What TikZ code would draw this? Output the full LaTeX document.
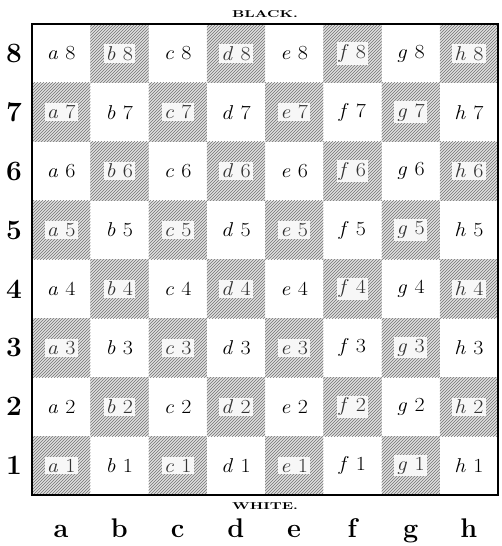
\documentclass[tikz,border=0pt]{standalone}
\usepackage{fontspec}
\usetikzlibrary{patterns}
\begin{document}
\begin{tikzpicture}[x=1pt,y=1pt,
  darksq/.style={pattern=north east lines,pattern color=black!55},
  sqlabel/.style={font=\fontsize{20}{20}\selectfont,inner sep=2pt,xscale=1.1,transform shape},
  darklabel/.style={sqlabel,fill=gray!6,text=black!80},
  ranklabel/.style={font=\fontsize{28}{28}\selectfont\bfseries},
  filelabel/.style={font=\fontsize{27}{27}\selectfont\bfseries,anchor=base},
  sidelabel/.style={font=\fontsize{10}{10}\selectfont\bfseries,xscale=1.5,transform shape}]
\useasboundingbox (0,0) rectangle (502,546);
\fill[white] (0,0) rectangle (502,546);
\def\L{32}\def\B{51}\def\W{58.25}\def\H{58.875}
\foreach \f [count=\i from 0] in {a,b,c,d,e,f,g,h}{
  \foreach \r in {1,...,8}{
    \pgfmathtruncatemacro{\parity}{mod(\i+\r,2)}
    \pgfmathsetmacro{\xx}{\L+\i*\W}
    \pgfmathsetmacro{\yy}{\B+(\r-1)*\H}
    \ifnum\parity=1
      \fill[gray!25] (\xx,\yy) rectangle ++(\W,\H);
      \fill[darksq] (\xx,\yy) rectangle ++(\W,\H);
      \node[darklabel] (sq-\f\r) at (\xx+\W/2,\yy+\H/2) {\textit{\f}\,\,\r};
    \else
      \node[sqlabel] (sq-\f\r) at (\xx+\W/2,\yy+\H/2) {\textit{\f}\,\,\r};
    \fi
  }
  \node[filelabel] (file-\f) at (\L+\i*\W+\W/2,9) {\f};
}
\foreach \r in {1,...,8}{
  \node[ranklabel] (rank-\r) at (14,\B+\r*\H-\H/2) {\r};
}
\draw[line width=2pt] (\L,\B) rectangle (\L+8*\W,\B+8*\H);
\node[sidelabel] (black) at (265,532) {BLACK.};
\node[sidelabel] (white) at (265,40) {WHITE.};
\end{tikzpicture}
\end{document}
